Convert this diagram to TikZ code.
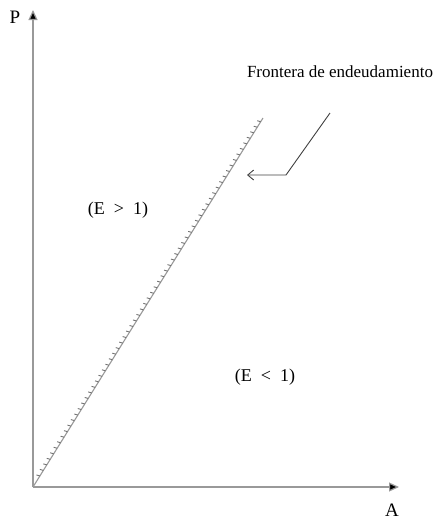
\documentclass[tikz,border=0pt]{standalone}
\usepackage{fontspec}
\setmainfont{Liberation Serif}
\usetikzlibrary{arrows.meta,calc}
\definecolor{axisgray}{gray}{0.6}
\tikzset{
  axisline/.style={draw=axisgray, line width=1.2pt},
  tip/.style={-{Triangle[length=10pt,width=9pt,fill=black]}},
  lbl/.style={font=\fontsize{17}{20}\selectfont, inner sep=0pt},
  region/.style={font=\fontsize{18}{21}\selectfont, inner sep=0pt},
  frontier/.style={draw=axisgray, line width=1.1pt},
  tick/.style={draw=black!55, line width=0.9pt},
  leader/.style={draw=black!75, line width=0.9pt}
}
\begin{document}
\begin{tikzpicture}[x=1pt,y=-1pt]
\useasboundingbox (0,0) rectangle (439,520);
\coordinate (O) at (33,487);
\coordinate (Ytop) at (33,10);
\coordinate (Xend) at (399,487);
\coordinate (Fend) at (263,118);
\coordinate (L1) at (330,113);
\coordinate (L2) at (286,175);
\coordinate (L3) at (247,175);
\draw[axisline, tip] (O) -- (Ytop);
\draw[axisline, tip] (O) -- (Xend);
\node[lbl, font=\fontsize{19}{22}\selectfont] (P) at (15,17) {P};
\node[lbl, font=\fontsize{19}{22}\selectfont] (A) at (392,510) {A};
\draw[frontier] (O) -- (Fend);
\foreach \t in {0.03,0.045,...,1.0} {
  \draw[tick] ($(O)!\t!(Fend)$) -- ++(-3.5,-1.0);
}
\node[lbl] (F) at (340,72) {Frontera de endeudamiento};
\node[region] (E1) at (118,210) {(E\enspace>\enspace1)};
\node[region] (E2) at (265,377) {(E\enspace<\enspace1)};
\draw[leader, -{Straight Barb[length=6pt,width=10pt]}] (L1) -- (L2) -- (L3);
\end{tikzpicture}
\end{document}
